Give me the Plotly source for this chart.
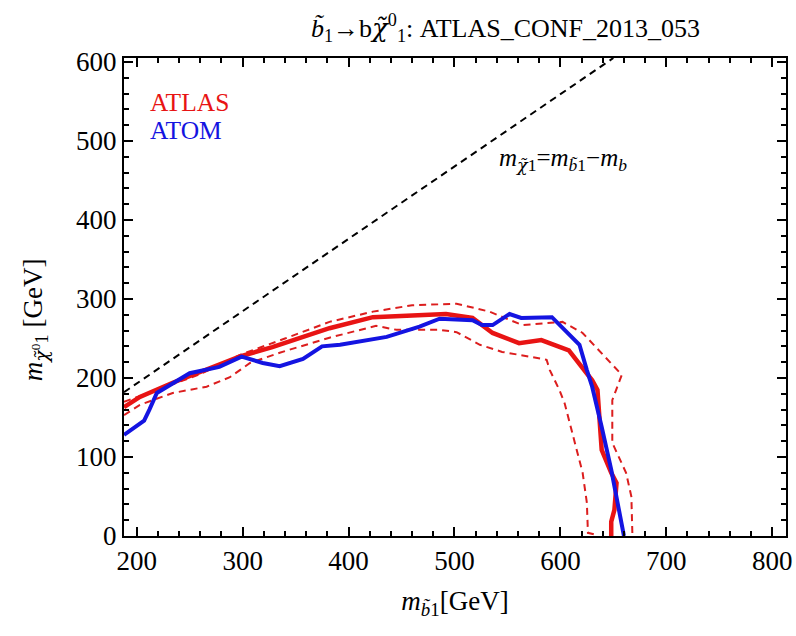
import plotly.graph_objects as go

# ATLAS observed limit (solid red)
atlas_x = [188, 203, 234, 266, 297, 328, 382, 423, 492, 517, 536, 561, 582, 608, 623, 630, 635, 637, 639, 648, 653, 651, 648, 648]
atlas_y = [163, 176, 194, 210, 227, 239, 263, 277, 281, 276, 257, 244, 248, 235, 210, 197, 185, 138, 109, 80, 67, 33, 18, 0]

# ATLAS +1 sigma (upper dashed red)
atlas_up_x = [188, 220, 260, 297, 340, 382, 423, 460, 502, 533, 564, 602, 621, 653, 658, 649, 649, 662, 667, 668]
atlas_up_y = [170, 185, 205, 229, 250, 271, 284, 292, 294, 284, 267, 271, 257, 210, 204, 172, 118, 80, 50, 0]

# ATLAS -1 sigma (lower dashed red)
atlas_dn_x = [188, 203, 234, 266, 288, 307, 335, 382, 426, 445, 486, 502, 524, 545, 571, 587, 590, 599, 604, 615, 621, 625, 626, 632]
atlas_dn_y = [153, 166, 181, 189, 201, 219, 232, 251, 266, 261, 261, 258, 242, 233, 227, 223, 210, 185, 168, 113, 80, 42, 4, 2]

# ATOM (solid blue)
atom_x = [188, 200, 207, 212, 219, 250, 278, 299, 319, 335, 357, 375, 392, 436, 467, 486, 517, 526, 536, 552, 563, 592, 618, 625, 630, 639, 648, 660]
atom_y = [128, 140, 146, 160, 181, 206, 214, 227, 219, 215, 224, 240, 242, 252, 265, 275, 273, 267, 267, 281, 276, 277, 242, 210, 189, 138, 84, 0]

# kinematic limit line (dashed black)
kin_x = [188, 650]
kin_y = [182, 605]

RED = "rgb(232,20,20)"
DRED = "rgb(220,30,30)"
BLUE = "rgb(20,20,225)"
FONT = "Liberation Serif"
CHI = '<span style="font-family:DejaVu Serif">χ̃</span>'

fig = go.Figure()
fig.add_trace(go.Scatter(x=kin_x, y=kin_y, mode="lines",
                         line=dict(color="black", width=2, dash="7px,5px")))
fig.add_trace(go.Scatter(x=atlas_up_x, y=atlas_up_y, mode="lines",
                         line=dict(color=DRED, width=2, dash="7px,5px")))
fig.add_trace(go.Scatter(x=atlas_dn_x, y=atlas_dn_y, mode="lines",
                         line=dict(color=DRED, width=2, dash="7px,5px")))
fig.add_trace(go.Scatter(x=atlas_x, y=atlas_y, mode="lines",
                         line=dict(color=RED, width=4.5)))
fig.add_trace(go.Scatter(x=atom_x, y=atom_y, mode="lines",
                         line=dict(color=BLUE, width=4)))

axis_common = dict(
    showgrid=False, zeroline=False, showline=True, linecolor="black", linewidth=2,
    mirror="ticks", ticks="inside", ticklen=9, tickwidth=2, tickcolor="black",
    tickfont=dict(family=FONT, size=27, color="black"),
    minor=dict(ticks="inside", ticklen=5, tickwidth=1.5, tickcolor="black", dtick=20),
    automargin=False,
)

fig.update_layout(
    width=796, height=636,
    paper_bgcolor="white", plot_bgcolor="white",
    showlegend=False,
    margin=dict(l=124, r=10, t=58, b=100),
    font=dict(family=FONT, color="black"),
    xaxis=dict(range=[188, 813], dtick=100, tick0=200,
               title=dict(text="<i>m</i><sub><i>b̃</i>1</sub>[GeV]",
                          font=dict(family=FONT, size=27), standoff=16),
               **axis_common),
    yaxis=dict(range=[0, 605], dtick=100, tick0=0, **axis_common),
    annotations=[
        dict(text="<i>b̃</i><sub>1</sub>→b<i>" + CHI + "</i><sup>0</sup><sub>1</sub>: ATLAS_CONF_2013_053",
             x=0.577, xref="paper", y=1.0, yref="paper", yshift=30, xanchor="center", yanchor="middle",
             showarrow=False, font=dict(family=FONT, size=26, color="black")),
        dict(text="<i>m</i><sub><i>" + CHI + "</i><sup>0</sup>1</sub> [GeV]",
             x=-0.134, xref="paper", y=0.452, yref="paper", xanchor="center", yanchor="middle",
             textangle=-90, showarrow=False, font=dict(family=FONT, size=27, color="black")),
        dict(text="ATLAS", x=0.037, xref="paper", y=0.906, yref="paper", xanchor="left", yanchor="middle",
             showarrow=False, font=dict(family=FONT, size=25.5, color=RED)),
        dict(text="ATOM", x=0.037, xref="paper", y=0.849, yref="paper", xanchor="left", yanchor="middle",
             showarrow=False, font=dict(family=FONT, size=25.5, color=BLUE)),
        dict(text="<i>m</i><sub><i>" + CHI + "</i>1</sub>=<i>m</i><sub><i>b̃</i>1</sub>−<i>m</i><sub><i>b</i></sub>",
             x=0.563, xref="paper", y=0.787, yref="paper", xanchor="left", yanchor="middle",
             showarrow=False, font=dict(family=FONT, size=25, color="black")),
    ],
)

fig.write_html("out.html", config={"displayModeBar": False},
               post_script="document.body.style.margin='0';document.body.style.overflow='hidden';")
